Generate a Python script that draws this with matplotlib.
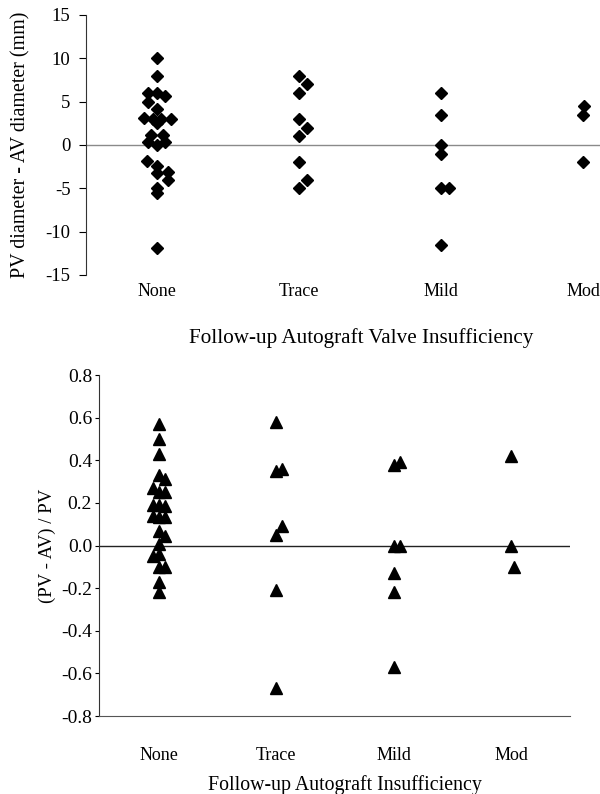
import matplotlib
matplotlib.use('Agg')
import matplotlib.pyplot as plt

plt.rcParams['font.family'] = ['Liberation Serif', 'DejaVu Serif']

categories = ['None', 'Trace', 'Mild', 'Mod']

# top panel: PV diameter - AV diameter (mm), with small side offsets as drawn
diff_none = [10, 8, 6, 6, 5.6, 5.0, 4.2, 3.1, 3.0, 3.0, 3.0, 2.5, 1.2, 1.2,
             0.3, 0.3, 0.0, -1.9, -2.4, -3.1, -3.2, -4.0, -5.0, -5.6, -11.9]
diff_none_off = [0, 0, -0.06, 0.0, 0.06, -0.06, 0.0, -0.09, -0.03, 0.03, 0.1, 0.0, -0.04, 0.04,
                 -0.06, 0.06, 0.0, -0.07, 0.0, 0.08, 0.0, 0.08, 0.0, 0.0, 0.0]
diff_trace = [8, 7, 6, 3, 2, 1, -2, -4, -5]
diff_trace_off = [0, 0.06, 0, 0, 0.06, 0, 0, 0.06, 0]
diff_mild = [6, 3.4, 0, -1, -5, -5, -11.5]
diff_mild_off = [0, 0, 0, 0, 0, 0.06, 0]
diff_mod = [4.5, 3.5, -2]
diff_mod_off = [0.01, 0, 0]
top_ticks = [-15, -10, -5, 0, 5, 10, 15]
top_ticklabels = ['-15', '-10', '-5', '0', '5', '10', '15']

# bottom panel: (PV - AV) / PV
ratio_none = [0.57, 0.50, 0.43, 0.33, 0.31, 0.27, 0.25, 0.25, 0.19, 0.19, 0.185, 0.14,
              0.135, 0.135, 0.07, 0.045, 0.005, -0.05, -0.04, -0.10, -0.10, -0.17, -0.22]
ratio_none_off = [0, 0, 0, 0, 0.05, -0.05, 0, 0.05, -0.05, 0, 0.05, -0.05,
                  0, 0.05, 0, 0.05, 0, -0.05, 0, 0, 0.05, 0, 0]
ratio_trace = [0.58, 0.35, 0.36, 0.09, 0.05, -0.21, -0.67]
ratio_trace_off = [0, 0, 0.05, 0.05, 0, 0, 0]
ratio_mild = [0.38, 0.39, 0.0, 0.0, -0.13, -0.22, -0.57]
ratio_mild_off = [0, 0.05, 0, 0.05, 0, 0, 0]
ratio_mod = [0.42, 0.0, -0.10]
ratio_mod_off = [0, 0, 0.02]
bottom_ticks = [-0.8, -0.6, -0.4, -0.2, 0.0, 0.2, 0.4, 0.6, 0.8]
bottom_ticklabels = ['-0.8', '-0.6', '-0.4', '-0.2', '0.0', '0.2', '0.4', '0.6', '0.8']

top_groups = [(diff_none, diff_none_off), (diff_trace, diff_trace_off),
              (diff_mild, diff_mild_off), (diff_mod, diff_mod_off)]
bottom_groups = [(ratio_none, ratio_none_off), (ratio_trace, ratio_trace_off),
                 (ratio_mild, ratio_mild_off), (ratio_mod, ratio_mod_off)]

fig = plt.figure(figsize=(6.0, 7.94), dpi=100)

# ---- top panel
ax1 = fig.add_axes([0.143, 0.6537, 0.857, 0.3275])
ax1.axhline(0, color='#8a8a8a', lw=1.0, zorder=1)
for i, (vals, offs) in enumerate(top_groups):
    xs = [i + 1 + o for o in offs]
    ax1.plot(xs, vals, linestyle='none', marker='D', markersize=5.7,
             color='black', zorder=3)
ax1.set_xlim(0.5, 4.12)
ax1.set_ylim(-15, 15)
ax1.set_yticks(top_ticks)
ax1.set_yticklabels(top_ticklabels)
ax1.set_xticks([1, 2, 3, 4])
ax1.set_xticklabels(categories, fontsize=13)
ax1.tick_params(axis='x', length=0, pad=6)
ax1.tick_params(axis='y', direction='out', length=5, labelsize=13.5, pad=6)
for s in ['top', 'right', 'bottom']:
    ax1.spines[s].set_visible(False)
ax1.spines['left'].set_color('#333333')
ax1.set_ylabel('PV diameter - AV diameter (mm)', fontsize=14.4, labelpad=11)
ax1.set_xlabel('Follow-up Autograft Valve Insufficiency', fontsize=15.2, labelpad=20)
ax1.xaxis.label.set_x(0.535)

# ---- bottom panel
ax2 = fig.add_axes([0.165, 0.0982, 0.785, 0.4295])
ax2.axhline(0, color='#222222', lw=1.0, zorder=1)
for i, (vals, offs) in enumerate(bottom_groups):
    xs = [i + 1 + o for o in offs]
    ax2.plot(xs, vals, linestyle='none', marker='^', markersize=8,
             color='black', zorder=3)
ax2.set_xlim(0.49, 4.5)
ax2.set_ylim(-0.8, 0.8)
ax2.set_yticks(bottom_ticks)
ax2.set_yticklabels(bottom_ticklabels)
ax2.set_xticks([1, 2, 3, 4])
ax2.set_xticklabels(categories, fontsize=13)
ax2.tick_params(axis='x', length=0, pad=22)
ax2.tick_params(axis='y', direction='out', length=3, labelsize=14, pad=2)
for s in ['top', 'right']:
    ax2.spines[s].set_visible(False)
ax2.spines['left'].set_color('#333333')
ax2.spines['bottom'].set_color('#555555')
ax2.set_ylabel('(PV - AV) / PV', fontsize=13.5, labelpad=4)
ax2.set_xlabel('Follow-up Autograft Insufficiency', fontsize=14.3, labelpad=8)
ax2.xaxis.label.set_x(0.522)

fig.savefig('out.png', dpi=100)
